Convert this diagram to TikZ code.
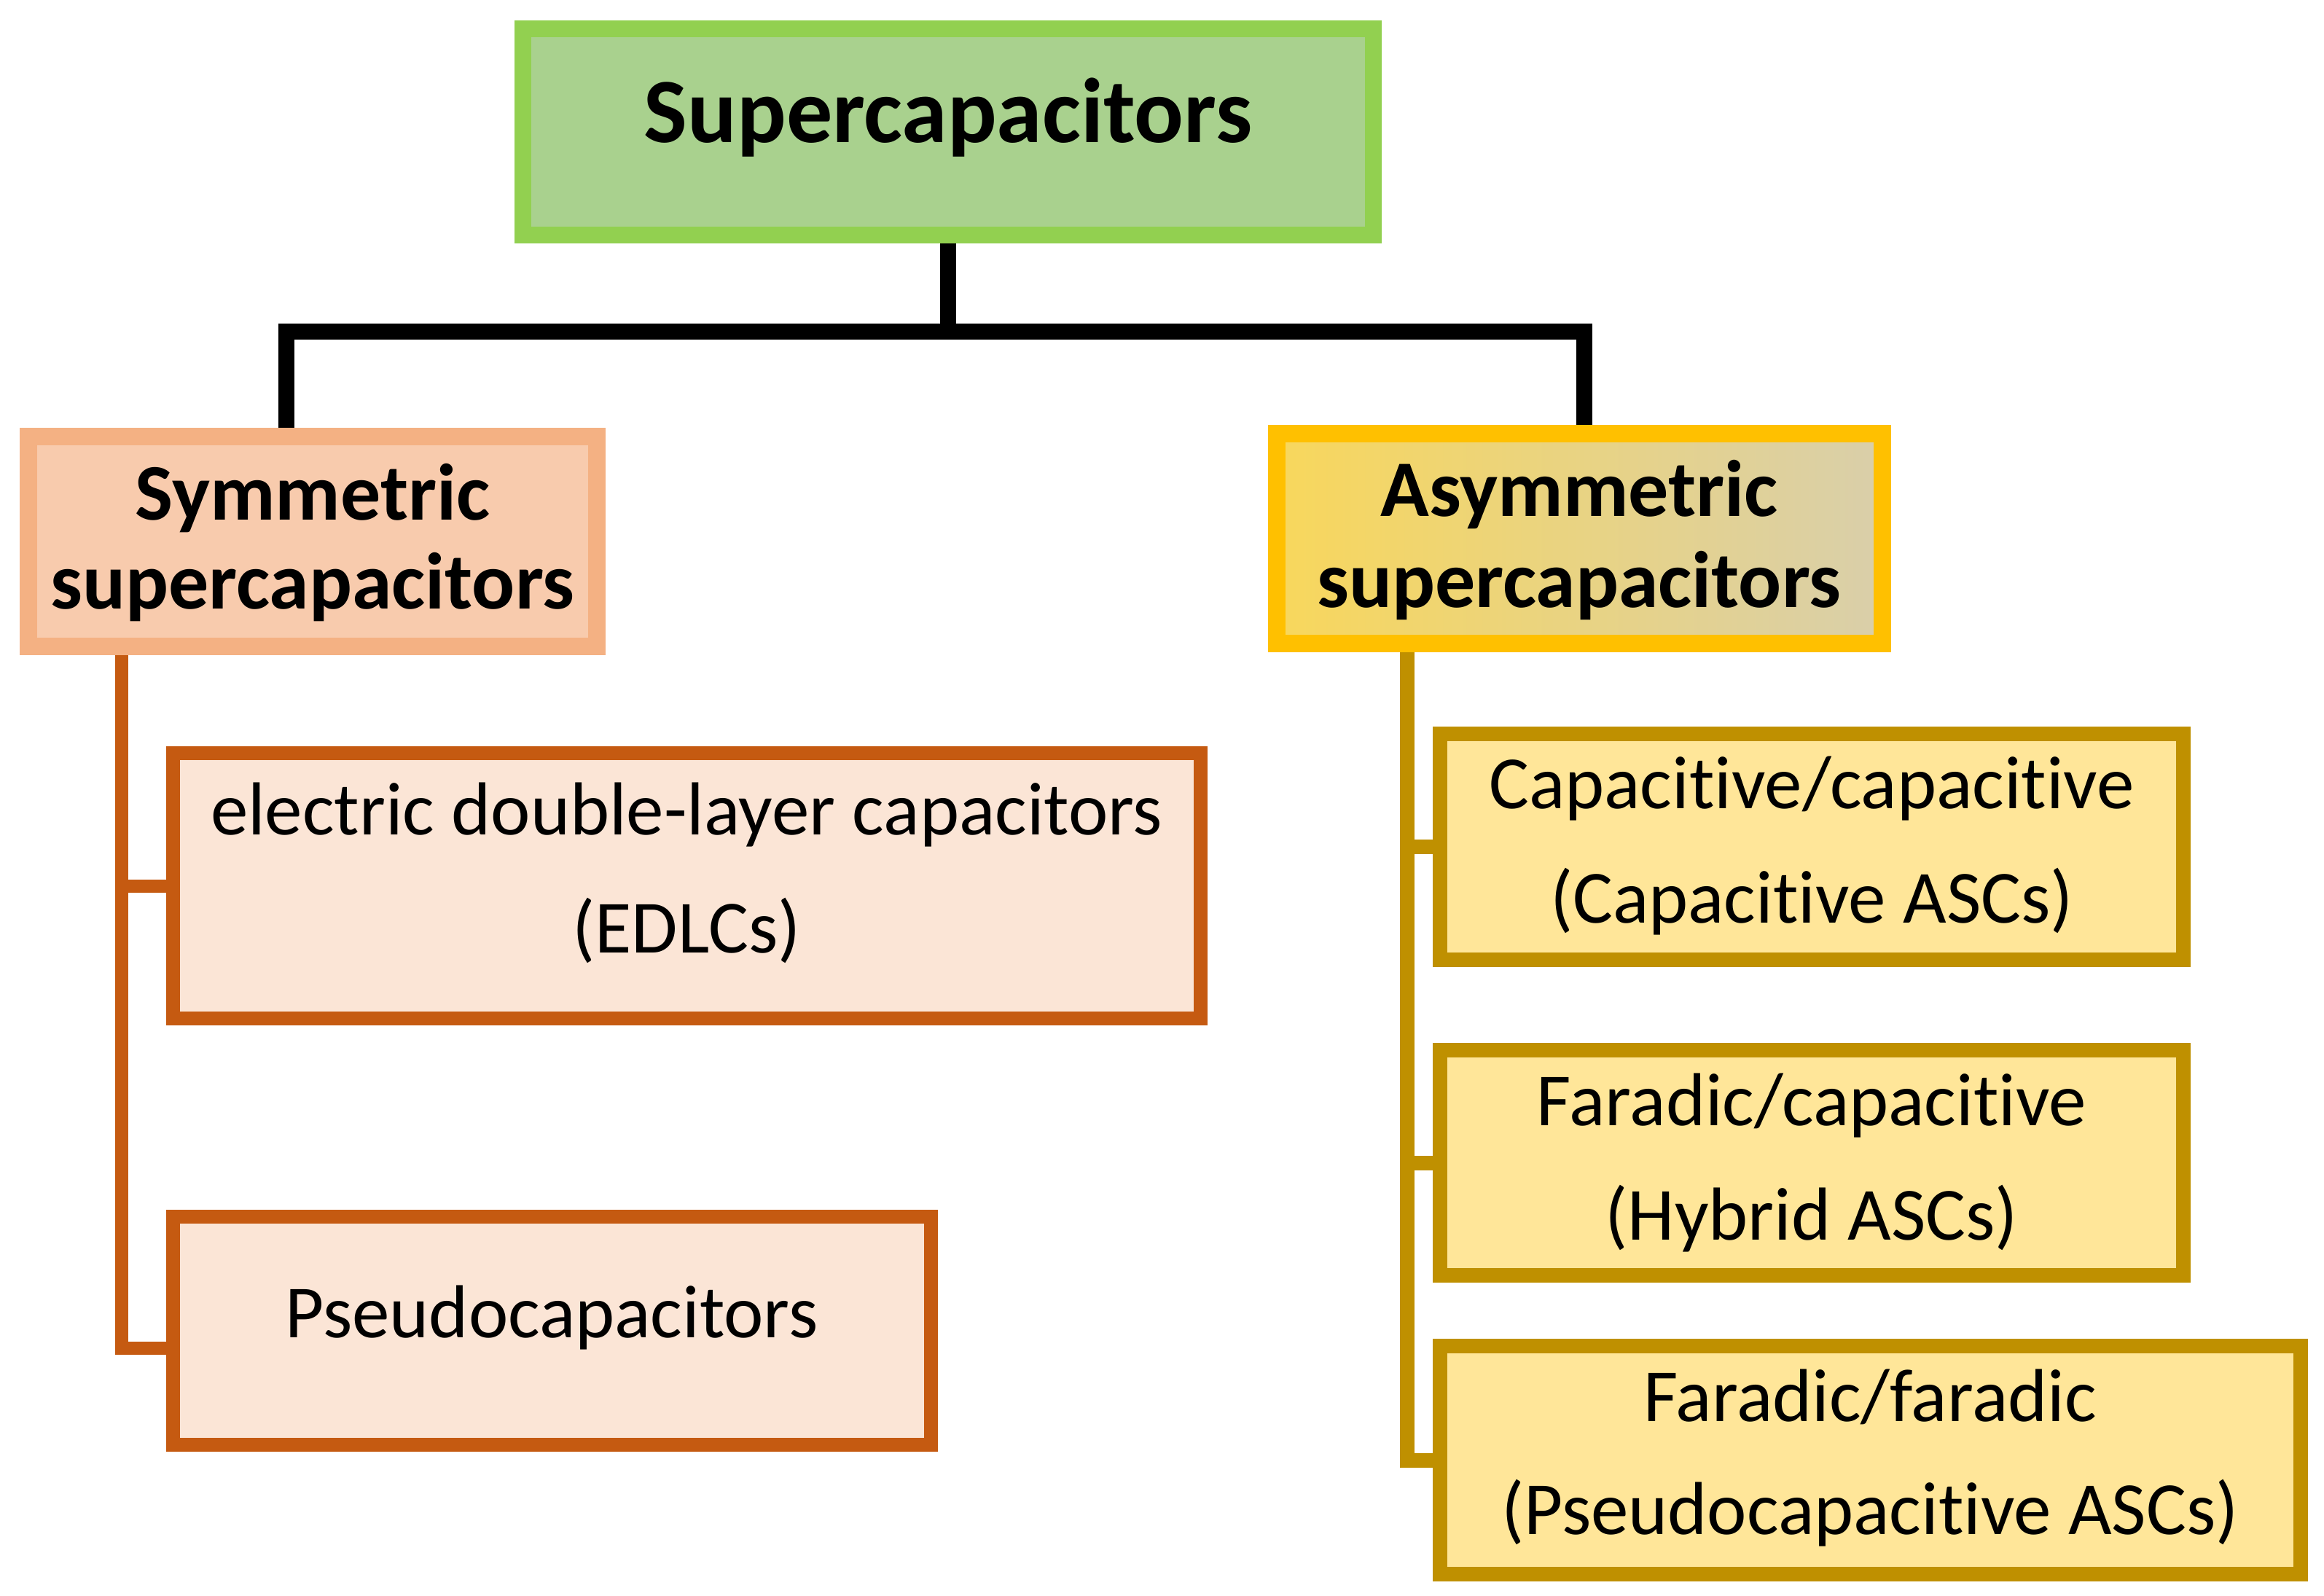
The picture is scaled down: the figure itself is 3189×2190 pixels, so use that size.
\documentclass[tikz,border=0pt]{standalone}
\usepackage{fontspec}
\setmainfont{Carlito}[Ligatures={NoCommon,NoRequired,NoContextual}]
\usetikzlibrary{calc}
\newcommand{\tik}{t\kern0pt i}
\definecolor{grnD}{HTML}{92D050}
\definecolor{grnL}{HTML}{A9D18E}
\definecolor{orgD}{HTML}{F4B183}
\definecolor{orgL}{HTML}{F8CBAD}
\definecolor{orgB}{HTML}{C55A11}
\definecolor{orgF}{HTML}{FBE5D6}
\definecolor{ylwD}{HTML}{FFC000}
\definecolor{ylwLa}{HTML}{F8D75C}
\definecolor{ylwLb}{HTML}{DFBB52}
\definecolor{ylwLc}{HTML}{D9CFAA}
\definecolor{gldB}{HTML}{BF9000}
\definecolor{gldF}{HTML}{FFE699}
\tikzset{
  boxbase/.style={rectangle, inner sep=0pt},
  topbox/.style={boxbase, draw=grnD, fill=grnL, line width=0.23cm},
  symbox/.style={boxbase, draw=orgD, fill=orgL, line width=0.24cm},
  asymbox/.style={boxbase, draw=ylwD, left color=ylwLa, middle color=ylwLb, right color=ylwLc, line width=0.24cm},
  obox/.style={boxbase, draw=orgB, fill=orgF, line width=0.19cm},
  gbox/.style={boxbase, draw=gldB, fill=gldF, line width=0.20cm},
  ttl/.style={anchor=base, inner sep=0pt, font=\bfseries\fontsize{35.9}{40}\selectfont},
  hd/.style={anchor=base, inner sep=0pt, font=\bfseries\fontsize{31.3}{36}\selectfont},
  txt/.style={anchor=base, inner sep=0pt, font=\fontsize{29.3}{34}\selectfont},
  blkline/.style={draw=black, line width=0.22cm},
  oline/.style={draw=orgB, line width=0.18cm},
  gline/.style={draw=gldB, line width=0.20cm}
}
\begin{document}
\begin{tikzpicture}[x=0.01cm, y=-0.01cm]
\useasboundingbox (0,0) rectangle (3189,2190);
\fill[white] (0,0) rectangle (3189,2190);

% boxes
\node[topbox, minimum width=11.67cm, minimum height=2.83cm] (sc) at (1301,181) {};
\node[symbox, minimum width=7.80cm, minimum height=2.88cm] (sym) at (429,743) {};
\node[asymbox, minimum width=8.31cm, minimum height=2.88cm] (asym) at (2167.5,739) {};
\node[obox, minimum width=14.10cm, minimum height=3.64cm] (edlc) at (942.5,1215.5) {};
\node[obox, minimum width=10.40cm, minimum height=3.13cm] (pseudo) at (757.5,1826) {};
\node[gbox, minimum width=10.20cm, minimum height=3.10cm] (cc) at (2486,1162) {};
\node[gbox, minimum width=10.20cm, minimum height=3.09cm] (fc) at (2486,1595.5) {};
\node[gbox, minimum width=11.81cm, minimum height=3.13cm] (ff) at (2566.5,2003.5) {};

% texts
\node[ttl] (tsc) at (1301,195) {Supercapacitors};
\node[hd] (tsym1) at (429,713) {Symmetric};
\node[hd] (tsym2) at (429,835) {supercapacitors};
\node[hd] (tasym1) at (2167,708) {Asymmetric};
\node[hd] (tasym2) at (2167,833) {supercapacitors};
\node[txt] (tedlc1) at (942,1145) {electric double-layer capacitors};
\node[txt] (tedlc2) at (942,1307) {(EDLCs)};
\node[txt] (tpseudo) at (757,1835) {Pseudocapacitors};
\node[txt] (tcc1) at (2486,1109) {Capaci\tik ve/capaci\tik ve};
\node[txt] (tcc2) at (2486,1266) {(Capaci\tik ve ASCs)};
\node[txt] (tfc1) at (2486,1544) {Faradic/capaci\tik ve};
\node[txt] (tfc2) at (2486,1701) {(Hybrid ASCs)};
\node[txt] (tff1) at (2566,1950) {Faradic/faradic};
\node[txt] (tff2) at (2566,2105) {(Pseudocapaci\tik ve ASCs)};

% black connectors
\coordinate (bar) at (1301,455);
\draw[blkline] (sc.south) -- (bar);
\draw[blkline] ([xshift=3.66cm]sym.north west) |- (bar) -| ([xshift=4.34cm]asym.north west);

% orange tree
\coordinate (ostem) at ([xshift=1.40cm]sym.south west);
\draw[oline] (ostem) |- (edlc.west);
\draw[oline] (ostem) |- ([yshift=-0.24cm]pseudo.west);

% gold tree
\coordinate (gstem) at ([xshift=1.91cm]asym.south west);
\draw[gline] (gstem) |- (cc.west);
\draw[gline] (gstem) |- (fc.west);
\draw[gline] (gstem) |- (ff.west);
\end{tikzpicture}
\end{document}
